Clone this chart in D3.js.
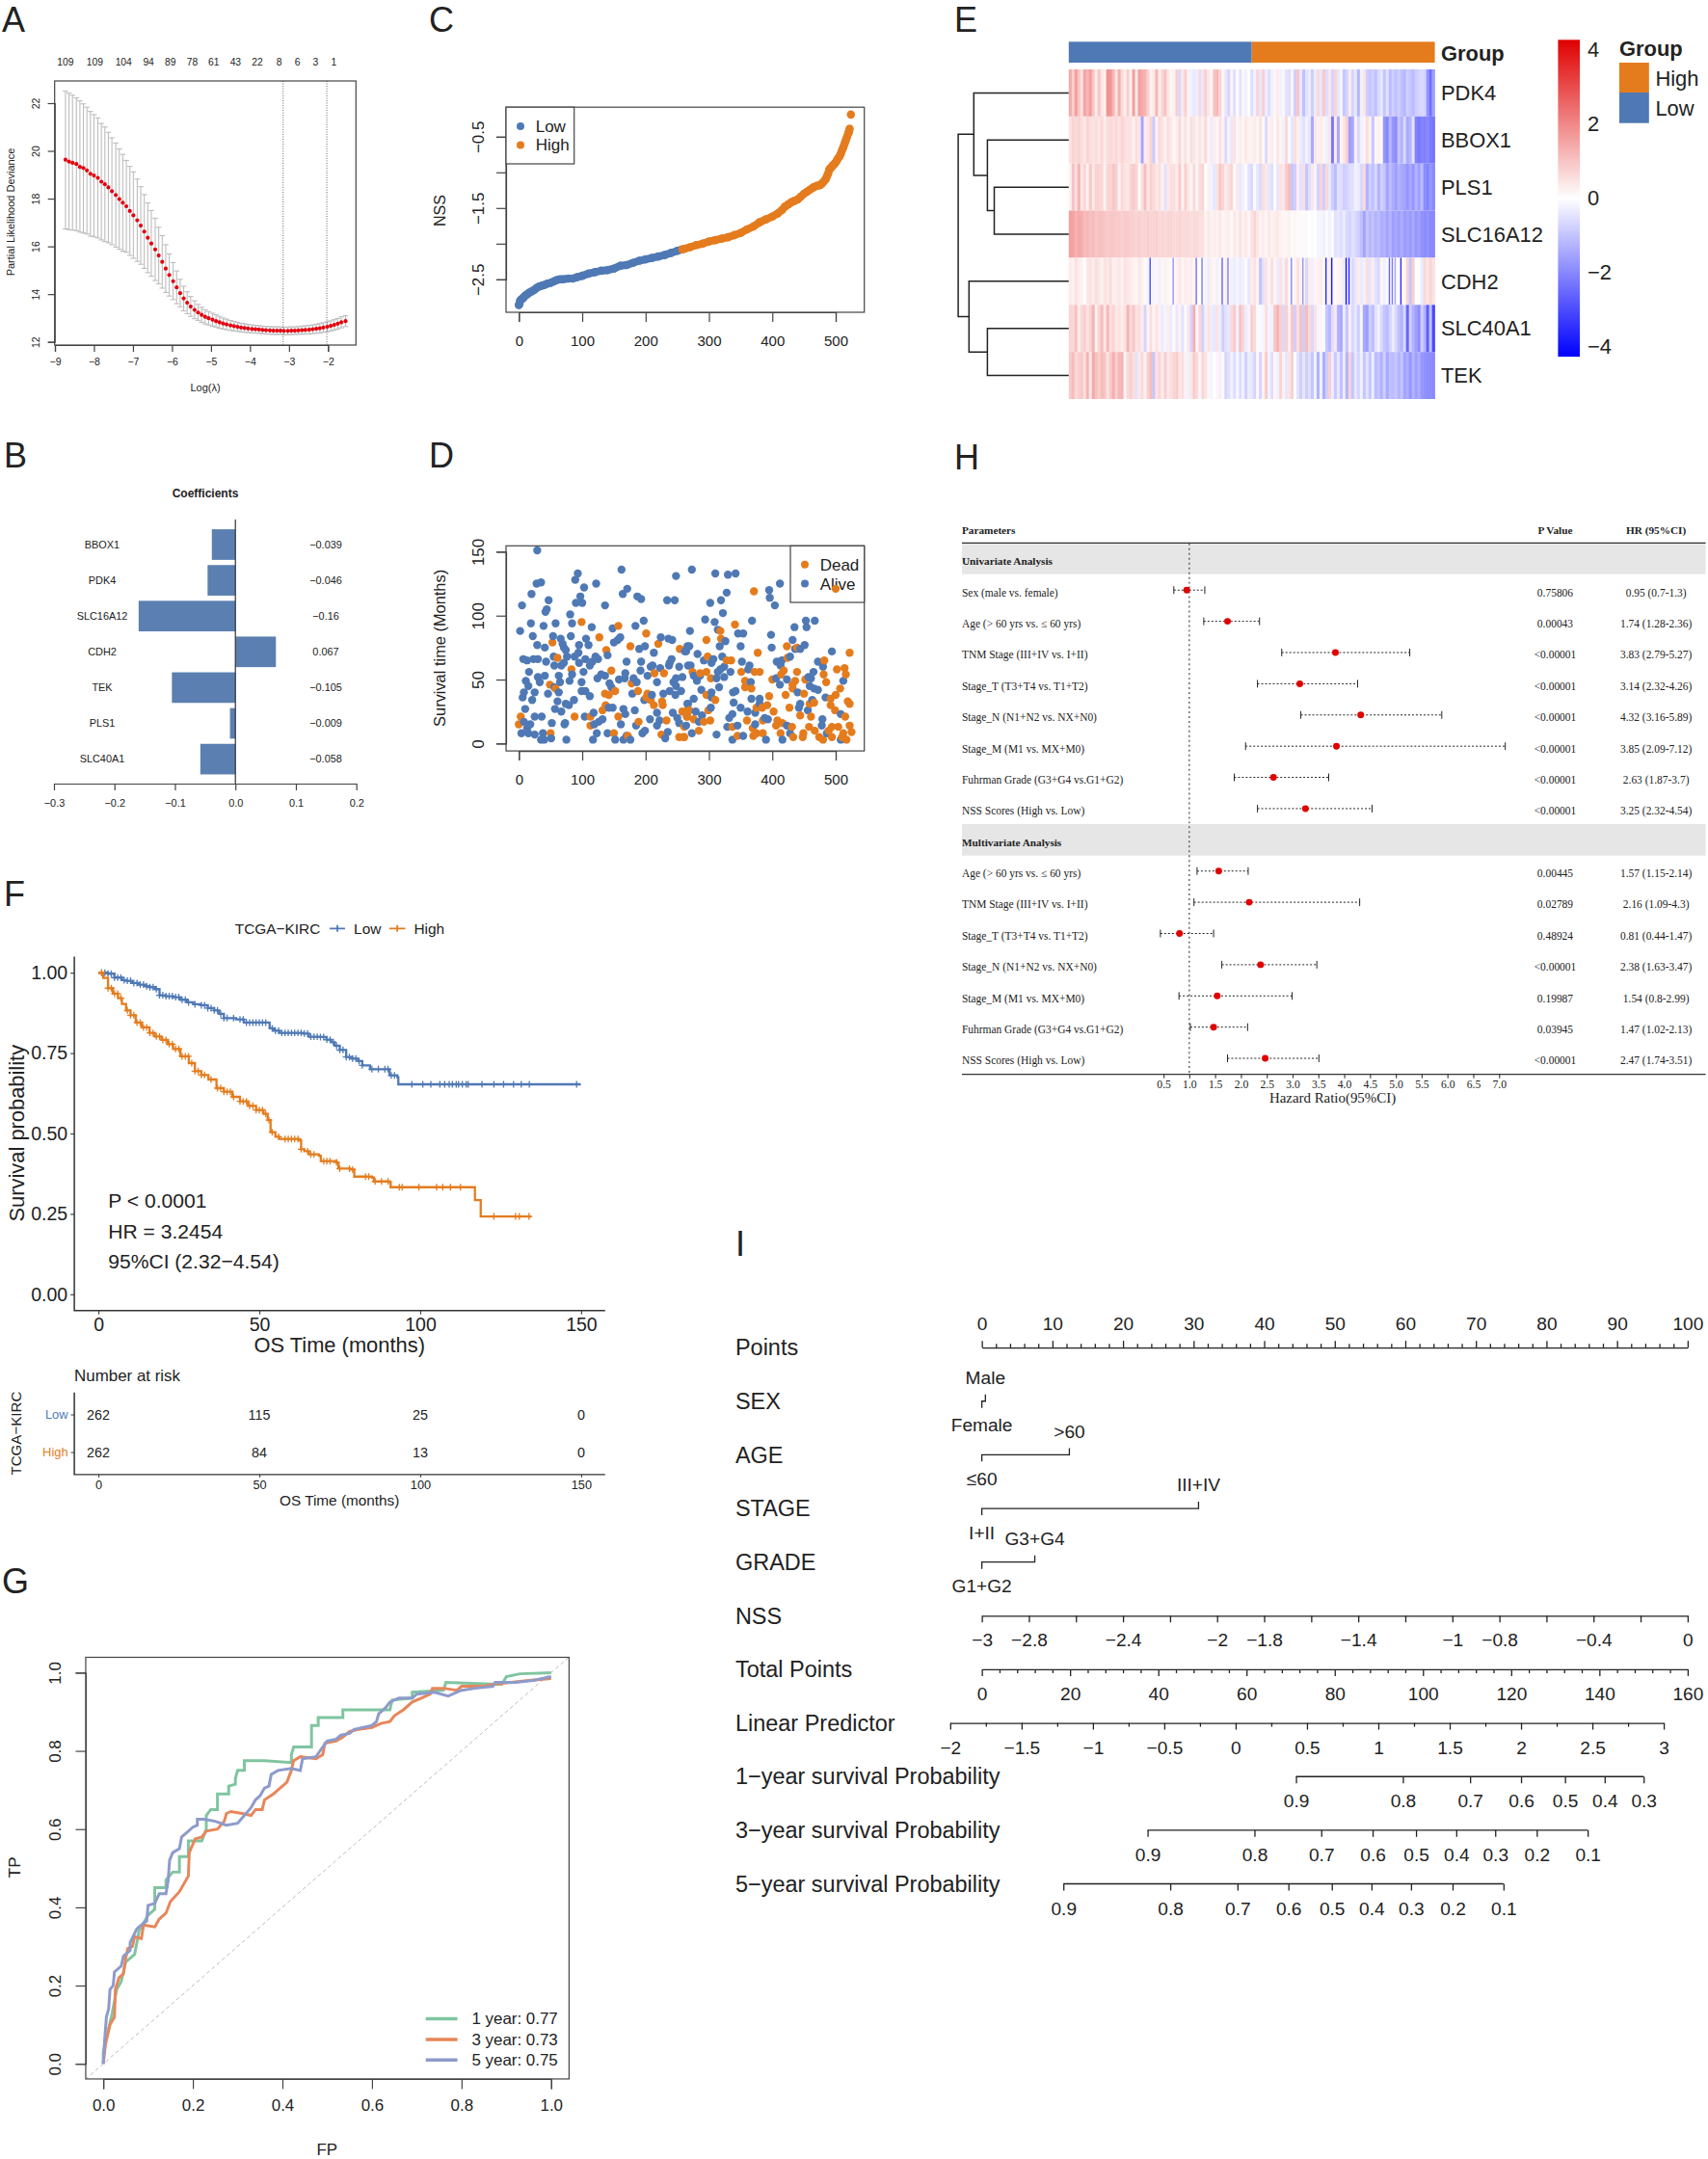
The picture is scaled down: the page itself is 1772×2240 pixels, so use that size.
<!DOCTYPE html>
<html>
<head>
<meta charset="utf-8">
<script src="https://d3js.org/d3.v7.min.js"></script>
<style>
  body { margin: 0; background: #fff; }
  text { font-family: "Liberation Sans", Arial, sans-serif; fill: #222; }
  .serif text, text.serif { font-family: "Liberation Serif", "Times New Roman", serif; }
</style>
</head>
<body>
<div id="chart"></div>
<script>
// A: lasso cross validation
const cvLambda = [-8.73,-8.64,-8.55,-8.45,-8.36,-8.27,-8.18,-8.09,-8.00,-7.90,-7.81,-7.72,-7.63,-7.54,-7.44,-7.35,-7.26,-7.17,-7.08,-6.99,-6.89,-6.80,-6.71,-6.62,-6.53,-6.43,-6.34,-6.25,-6.16,-6.07,-5.97,-5.88,-5.79,-5.70,-5.61,-5.52,-5.42,-5.33,-5.24,-5.15,-5.06,-4.96,-4.87,-4.78,-4.69,-4.60,-4.50,-4.41,-4.32,-4.23,-4.14,-4.05,-3.95,-3.86,-3.77,-3.68,-3.59,-3.49,-3.40,-3.31,-3.22,-3.13,-3.03,-2.94,-2.85,-2.76,-2.67,-2.58,-2.48,-2.39,-2.30,-2.21,-2.12,-2.02,-1.93,-1.84,-1.75,-1.66,-1.55];
const cvMean = [19.63,19.55,19.50,19.45,19.33,19.28,19.18,19.04,18.97,18.87,18.71,18.60,18.47,18.31,18.15,17.98,17.83,17.68,17.48,17.30,17.09,16.87,16.62,16.36,16.12,15.87,15.62,15.35,15.07,14.80,14.54,14.28,14.04,13.82,13.64,13.48,13.34,13.23,13.13,13.05,12.99,12.93,12.87,12.82,12.77,12.73,12.69,12.66,12.63,12.60,12.58,12.56,12.54,12.53,12.52,12.50,12.49,12.48,12.47,12.47,12.47,12.46,12.46,12.47,12.47,12.48,12.49,12.50,12.51,12.53,12.55,12.57,12.60,12.63,12.67,12.71,12.76,12.82,12.87];
const cvUpper = [22.5,22.42,22.33,22.22,22.1,21.97,21.83,21.65,21.52,21.38,21.15,21.0,20.78,20.55,20.33,20.08,19.85,19.6,19.35,19.12,18.82,18.5,18.17,17.82,17.5,17.18,16.8,16.45,16.07,15.68,15.32,14.97,14.62,14.33,14.1,13.9,13.72,13.57,13.45,13.35,13.27,13.2,13.13,13.07,13.0,12.95,12.9,12.86,12.82,12.78,12.76,12.73,12.71,12.69,12.68,12.66,12.65,12.64,12.63,12.63,12.63,12.62,12.62,12.63,12.63,12.64,12.66,12.67,12.69,12.71,12.74,12.77,12.8,12.84,12.88,12.93,12.98,13.05,13.1];
const cvLower = [16.73,16.70,16.68,16.66,16.6,16.56,16.52,16.43,16.4,16.35,16.27,16.2,16.15,16.07,15.97,15.88,15.8,15.75,15.62,15.5,15.37,15.25,15.08,14.9,14.75,14.57,14.43,14.25,14.07,13.92,13.77,13.6,13.47,13.3,13.18,13.07,12.97,12.9,12.82,12.75,12.71,12.66,12.62,12.57,12.54,12.51,12.48,12.46,12.44,12.42,12.4,12.39,12.37,12.37,12.36,12.34,12.33,12.32,12.31,12.31,12.31,12.3,12.3,12.31,12.31,12.32,12.32,12.33,12.33,12.35,12.36,12.37,12.4,12.42,12.46,12.49,12.54,12.59,12.64];
const cvTopCounts = ["109","109","104","94","89","78","61","43","22","8","6","3","1"];
const cvTopLambda = [-8.73,-7.98,-7.24,-6.6,-6.04,-5.48,-4.93,-4.37,-3.81,-3.25,-2.78,-2.32,-1.85];
const cvCutoffs = [-3.15,-2.03];

// B: coefficients
const coefGenes = ["BBOX1","PDK4","SLC16A12","CDH2","TEK","PLS1","SLC40A1"];
const coefValues = [-0.039,-0.046,-0.16,0.067,-0.105,-0.009,-0.058];

// C: sorted NSS score
const nssRank = [0,1,2,4,6,8,10,13,16,20,24,28,32,36,40,45,50,55,60,65,70,78,85,92,100,110,120,130,140,150,160,170,180,190,200,210,220,230,240,250,258,262,270,280,290,300,310,320,330,340,350,360,370,380,390,400,408,415,420,425,430,435,440,445,450,455,460,465,470,475,478,481,484,486,488,490,492,494,496,498,500,502,504,506,508,510,512,514,516,518,520,521,522,524];
const nssValue = [-2.86,-2.84,-2.8,-2.78,-2.77,-2.75,-2.73,-2.71,-2.69,-2.67,-2.65,-2.62,-2.6,-2.59,-2.58,-2.56,-2.55,-2.53,-2.51,-2.5,-2.5,-2.49,-2.49,-2.47,-2.45,-2.42,-2.4,-2.38,-2.37,-2.35,-2.31,-2.3,-2.27,-2.24,-2.22,-2.2,-2.18,-2.16,-2.13,-2.1,-2.08,-2.07,-2.05,-2.02,-2.0,-1.97,-1.95,-1.93,-1.91,-1.88,-1.85,-1.8,-1.76,-1.7,-1.66,-1.62,-1.58,-1.53,-1.48,-1.45,-1.42,-1.4,-1.38,-1.34,-1.3,-1.27,-1.24,-1.21,-1.19,-1.18,-1.16,-1.13,-1.1,-1.06,-1.02,-0.96,-0.94,-0.92,-0.9,-0.88,-0.86,-0.83,-0.8,-0.78,-0.74,-0.69,-0.65,-0.6,-0.55,-0.5,-0.45,-0.43,-0.39,-0.19];

// D: survival status, [rank, months]
const alivePoints = [[29,151],[162,136],[93,133],[248,131],[35,126],[89,128],[28,125],[122,125],[171,121],[103,122],[20,117],[164,117],[187,115],[97,115],[193,113],[47,112],[234,112],[246,112],[100,110],[90,110],[5,108],[136,108],[44,105],[42,103],[81,101],[197,96],[19,94],[84,94],[58,94],[39,92],[184,92],[115,91],[148,90],[2,88],[22,84],[54,84],[82,84],[160,83],[66,82],[106,82],[156,81],[224,83],[236,82],[242,81],[150,79],[69,78],[110,77],[95,77],[29,77],[41,75],[71,75],[199,76],[190,74],[74,73],[266,76],[262,72],[213,71],[94,71],[140,69],[121,68],[88,68],[76,68],[7,66],[13,65],[23,66],[30,66],[55,68],[105,66],[125,66],[43,64],[170,64],[193,64],[241,66],[238,63],[95,63],[116,64],[71,63],[56,61],[67,61],[112,61],[211,61],[208,60],[253,60],[223,59],[267,61],[237,61],[192,57],[16,56],[102,56],[168,55],[63,53],[84,54],[130,54],[136,53],[203,53],[30,52],[41,53],[80,49],[124,51],[158,50],[167,51],[181,51],[248,51],[258,52],[11,49],[33,48],[65,48],[99,48],[143,47],[186,48],[218,48],[244,48],[15,45],[56,44],[146,44],[248,45],[256,41],[8,40],[25,40],[46,39],[63,40],[99,41],[105,41],[179,39],[238,41],[228,39],[112,37],[247,38],[210,38],[6,36],[21,34],[61,33],[87,34],[198,34],[74,31],[79,30],[266,31],[10,27],[57,27],[67,25],[142,28],[148,28],[118,24],[165,27],[168,23],[218,24],[243,24],[183,26],[25,21],[36,21],[104,21],[132,19],[250,20],[207,19],[8,17],[52,16],[73,16],[126,17],[222,18],[253,16],[18,15],[72,15],[119,15],[161,15],[185,14],[218,14],[13,12],[199,10],[15,8],[123,8],[140,8],[195,8],[235,9],[4,8],[25,7],[38,8],[152,3],[170,6],[35,3],[40,3],[51,4],[75,3],[117,3],[165,3],[176,3],[231,4],
  [273,136],[310,133],[330,132],[342,133],[412,125],[395,120],[328,118],[319,112],[396,114],[302,110],[404,108],[322,102],[294,97],[309,95],[368,96],[453,96],[467,96],[454,91],[435,91],[314,89],[270,88],[346,86],[354,86],[398,85],[432,81],[326,80],[317,76],[350,76],[399,75],[451,77],[444,74],[436,74],[269,76],[264,72],[282,70],[494,72],[321,68],[428,68],[292,65],[307,66],[304,63],[352,64],[407,64],[415,65],[472,64],[271,61],[324,60],[364,61],[413,61],[480,60],[362,58],[318,58],[314,56],[334,56],[276,53],[286,53],[324,52],[312,51],[465,56],[457,52],[461,51],[281,49],[406,51],[423,50],[366,48],[412,46],[512,49],[459,45],[466,43],[472,42],[316,44],[288,42],[342,41],[338,40],[304,40],[440,40],[484,36],[276,35],[367,35],[380,35],[304,36],[339,32],[463,34],[267,31],[380,31],[444,31],[350,28],[303,28],[279,25],[361,25],[442,28],[456,26],[373,24],[337,23],[332,20],[289,22],[388,20],[393,19],[479,19],[508,23],[284,17],[373,15],[345,14],[423,14],[329,13],[478,14],[264,14],[428,8],[486,8],[312,7],[273,8],[354,6],[337,3],[390,3],[416,3],[508,3]];
const deadPoints = [[99,95],[157,92],[201,86],[127,83],[53,79],[176,76],[220,78],[138,73],[254,74],[61,67],[83,58],[146,57],[214,55],[229,55],[49,46],[178,47],[58,43],[188,41],[152,41],[136,39],[142,38],[203,39],[201,36],[208,34],[226,33],[227,30],[213,30],[137,30],[132,26],[3,21],[88,21],[113,21],[157,21],[189,17],[233,18],[258,25],[266,26],[265,21],[0,15],[113,14],[261,13],[50,8],[150,8],[172,6],[225,7],[253,5],[260,5],
  [500,121],[371,119],[341,93],[318,88],[319,82],[296,81],[423,76],[439,75],[377,71],[522,71],[298,68],[328,65],[335,65],[424,67],[482,65],[502,58],[514,59],[516,54],[439,56],[418,57],[414,54],[351,56],[372,56],[380,56],[274,56],[296,56],[286,55],[303,51],[481,54],[485,48],[400,50],[436,49],[452,50],[432,46],[357,49],[357,44],[367,43],[432,43],[450,39],[421,38],[296,38],[395,37],[507,43],[500,38],[492,35],[310,34],[466,32],[459,31],[519,33],[522,31],[492,30],[392,30],[384,28],[375,28],[427,28],[499,26],[299,26],[269,26],[402,25],[444,22],[461,21],[515,21],[266,21],[360,18],[385,18],[276,19],[302,18],[292,17],[408,18],[416,16],[337,13],[369,12],[431,13],[406,14],[504,13],[522,14],[458,13],[494,13],[284,10],[413,8],[385,8],[375,8],[370,6],[345,6],[449,8],[467,10],[489,10],[525,9],[433,5],[448,5],[474,5],[480,3],[494,5],[512,8],[517,3],[510,5],[261,5]];

// E: heatmap, one array per gene, samples sorted by NSS descending
const heatGenes = ["PDK4","BBOX1","PLS1","SLC16A12","CDH2","SLC40A1","TEK"];
const heatPDK4 = [1.8,1.0,2.0,1.2,.6,1.9,1.5,2.0,1.2,.4,1.2,.5,.3,2.3,2.2,1.5,.6,1.7,.8,.4,1.0,.3,2.0,.5,2.0,1.8,1.6,1.0,.3,.5,1.6,.4,.9,1.3,.5,.2,.3,1.0,-.8,.5,1.0,.3,-.3,-.5,-.4,.8,-.5,1.0,.5,.2,1.3,1.5,.9,.2,-.5,-.9,.3,-.7,.1,-.6,.2,-.3,.0,
  -.7,-.3,.9,-.5,1.0,-.4,-.7,-.3,.2,.4,-.3,.2,-.6,-.7,.3,-1,1.2,-.5,-1.3,-.6,-.4,-1.0,-.4,.8,-.5,1.1,-.7,.5,-.9,.9,-.5,-.2,-1.2,-.9,.4,-.9,-.5,-1.5,-.3,.5,-1,-1.2,-1,-1.3,-.8,-.5,-1.2,-.6,-1.4,-1,-1.3,-1.0,-1.3,-1.5,-1,-1.2,-1.4,-1,-.9,-.8,-.9,-2.2,-3,-2];
const heatBBOX1 = [.6,.9,.8,.9,.7,.5,.9,.7,.6,.7,.5,.8,.4,.7,.8,.7,.8,.6,.9,.7,.6,.6,.3,.7,.5,-1.9,.4,.5,.9,-1.1,.3,.8,.6,.3,.7,.5,.2,.4,.8,.3,.6,.2,.7,.5,.3,.6,.3,.8,.2,-.4,.4,.2,.6,.3,-.8,.3,-.5,.6,.2,.4,.2,.5,.3,
  .3,.4,.2,.6,.1,-.8,.3,.4,.1,.5,.2,-.3,.8,.1,-.5,.7,.3,-.4,-.6,-.3,-.5,-1.8,.5,.3,.4,.2,-.3,.5,-2.8,.4,-1.8,.2,.5,1.0,-2,-1.8,.3,-.8,-.3,.2,.7,.3,-1.2,.2,.3,.1,-2.2,-2.5,-1.5,-2.2,-2.4,-1.2,-1.6,-.8,-1.8,-1.5,-.6,-2.6,-2.8,-2.6,-2.7,-2.5,-2.8,-2.9];
const heatPLS1 = [.3,1.3,.6,1.6,.5,.9,.3,1.1,.5,.9,.9,.8,.3,.9,.9,1.2,1.0,.3,.8,.6,.5,.9,1.1,.9,.1,.7,1.4,.5,1.0,.8,.5,.7,.3,-.6,.5,.7,.7,.4,1.1,.3,1.0,.5,.2,.8,.2,.8,.9,.0,.3,-.3,-.5,.6,1.2,.9,.4,.7,.9,.1,.5,-.5,-.3,.1,-.6,
  -.8,-.1,-.5,-.8,.7,.5,-.5,-.7,.1,-.5,.6,.5,1.1,1.4,-1.2,-1,.4,-.6,.7,-1.2,-.7,.5,-.2,-.9,.9,-1.0,.8,-.5,-1,-1.4,-.6,-.7,-1.0,-.9,-.7,-.6,-.3,-.4,-.8,.8,-1.6,-1.0,-1.3,-.8,-1.6,-1.0,-1.2,-1.9,-1.4,-1.7,-2,-1.6,-1.8,-1.9,-2.2,-1.8,-2.2,-1.6,-2,-1.4,-2.4,-2.6,-2.2,-2.5];
const heatSLC16A12 = [2.0,1.9,1.6,1.8,1.7,1.4,1.5,1.3,1.4,1.2,1.3,1.3,1.2,1.1,1.2,1.2,1.1,1.1,1.0,1.1,1.1,1.0,1.0,.9,1.0,.9,.9,1.0,.9,.9,1.0,.8,.9,.8,.9,.9,.8,.8,.9,.8,.8,.8,.7,.8,.8,.7,.7,.2,.5,.3,.4,.3,.5,.2,.3,.4,.1,.5,.3,.6,.3,.5,.2,
  .6,.9,.5,.3,.4,.2,.5,.3,.4,.5,.3,.2,.2,.3,.1,.2,.1,.1,-.1,.1,.0,-.1,.0,-.2,-.2,-.3,-.1,-.3,-.1,-.6,-.5,-.7,-.4,-.8,-.9,-.6,-.8,-1.0,-1.3,-1.9,-1.2,-1.5,-1.3,-1.6,-1.4,-1.7,-1.6,-1.9,-1.6,-2,-1.8,-2,-1.7,-2.1,-1.9,-2.1,-1.8,-2.2,-2,-2.3,-2.4,-2.3,-2.5,-2.5];
const heatCDH2 = [.4,.3,.6,.4,.3,.0,.5,.6,.4,.7,.5,.3,.6,.5,.7,.3,.4,.5,.3,.6,.5,.4,.3,.2,.5,.3,.1,-.2,-3,-.2,.2,-.3,.2,.3,.2,.1,-1.8,.3,.5,.2,.4,.3,.4,.2,-2.4,.0,-2.2,-.2,-.4,.3,.2,-.3,.2,-2.6,.3,-2.2,-.3,-.4,-.2,-.4,-.3,.1,-.5,
  .4,.6,.3,-1.3,-.6,.6,.2,.7,.2,-.4,.6,-.3,.8,.2,-2,.2,.6,.3,-1.8,-.8,.4,-.3,.2,.3,.4,-.1,-3.6,.4,-3.9,.1,.2,.3,-.4,-4,-3.6,-.8,-.5,.4,-.4,-.3,.7,-.5,.4,-.6,-.8,.2,-.3,-.1,-2.6,-2.2,-1.5,.1,-3.5,.1,.9,-1.2,1.0,.0,.0,-.4,.8,.5,.9,.6];
const heatSLC40A1 = [.9,.8,1.3,.4,.8,1.0,.6,.9,1.6,.3,.9,1.4,.5,1.5,.7,.9,.5,.6,.4,.6,1.6,.8,1.2,.6,.7,.4,-.9,.3,.7,.2,.6,.3,-.4,-.2,.4,-.4,.1,-.5,.3,-.6,-.1,.5,-.9,1.7,-.2,.9,-1,-.3,.6,-.4,-.5,.6,-.4,-1,-.6,-.5,.8,1.1,-.3,1.3,.9,-.4,-.2,
  1.0,.8,-.1,-.1,-.2,.7,-.2,-.3,1.2,1.6,1.0,-.8,1.0,.3,1.2,-1.0,.7,1.3,-1,1.4,.8,-.8,.6,-.2,.2,-.1,-1.2,-1.5,-.7,.5,-1.6,-1.8,-.4,-1.2,.4,-.8,-.5,-1,-.2,-1.8,-2,-1,-1.4,-.6,-.3,-.8,-1.2,-1.4,-.9,-.4,-.8,-1.3,-1.6,-.8,-3.2,-1,-1.6,-2,-2.4,-1,-1.6,-3.4,-1.3,-3.8];
const heatTEK = [1.1,1.4,.8,1.0,1.1,.7,1.6,.5,1.8,1.3,1.0,1.4,1.2,.6,1.1,1.7,1.0,1.5,1.6,.2,.8,1.0,.7,-.6,.5,.8,.3,1.0,1.4,-1.2,.6,.9,.4,1.0,.5,.7,.9,1.1,.5,.7,.3,-.3,.5,1.1,.8,-.2,.9,.6,.2,-.2,.0,.2,-.3,.1,-.9,-.7,-.3,-.7,-.2,-.7,-.3,-1,-.4,
  -.5,-.9,.2,-.9,.3,1.1,-.3,-.7,.2,-.3,.9,.3,-.5,.6,1.0,.0,-.6,-1,-.5,-1,-.7,-1.2,-.3,-1.6,-.3,-1.7,-1.0,1.0,-.4,-1.1,-.5,-1.3,-.4,-1.6,.9,-1.2,-.5,-.9,-.3,-1.2,-.6,-1.2,-.4,-1.4,-1.2,-1.6,-1,-1.8,-1.3,-1.4,-1.2,-1.6,-1.2,-1.9,-1.7,-2.2,-1.6,-2,-1.7,-2.2,-2.3,-2.4,-2.4,-2.5];

// F: Kaplan-Meier
const kmLowTime = [0,3,5,7.3,8.5,10.4,12.5,14.7,16,17.7,19,21,23.2,25.5,27.5,29.5,31.8,34,36,37.5,39,42.8,45.2,51.3,53.2,54.5,56.2,63.6,65.4,69,70.9,72.3,73.4,75,77,78.8,80.7,82,84.4,89.9,90.5,92.9,93.2];
const kmLowSurv = [1,.997,.985,.977,.975,.968,.963,.958,.955,.949,.93,.927,.924,.916,.908,.902,.899,.89,.883,.872,.859,.855,.845,.845,.827,.82,.813,.811,.801,.8,.792,.784,.773,.76,.738,.733,.725,.712,.7,.7,.681,.675,.653];
const kmHighTime = [0,1.5,3,4.5,6.1,7.3,8.6,10,11.6,13.5,15.9,17.5,19.6,21.5,23.2,25.5,28.1,30,32,34.2,36.7,39,41.6,44,46.5,49,51.3,52.6,53.5,55,56.2,62.3,63,64,65.4,68.5,69.1,74,74.6,78.2,79.5,85,85.6,90.5,90.8,116.7,117,118.8];
const kmHighSurv = [1,.984,.952,.935,.921,.903,.883,.868,.845,.83,.813,.802,.791,.778,.763,.74,.719,.694,.682,.668,.641,.63,.614,.6,.586,.573,.561,.542,.504,.49,.483,.479,.451,.445,.435,.431,.414,.41,.391,.388,.366,.363,.351,.349,.333,.333,.293,.242];
const kmLowCensor = [1,2,3,4,5,6,7,8,9,10,11,12,13,14,15,16,17,18,19,20,21,22,23,24,25,26,27,28,30,32,33,34,35,36,37,38,39,40,42,44,45,46,47,48,49,50,51,52,54,55,56,57,58,59,60,61,62,63,64,65,66,67,68,69,70,71,72,73,74,75,76,77,78,79,80,81,82,85,87,89,90,91,92,97.4,100.8,103.3,106.1,107.6,109,110,111.2,111.9,113.1,114.3,114.9,119.2,122.9,125.9,129,131.4,133.9,148.6];
const kmHighCensor = [1,3,4,5,6,7,9,10,11,12,13,14,15,16,17,18,19,20,21,22,23,24,25,26,27,28,29,30,31,32,33,35,37,38,39,40,41,42,44,45,46,47,48,49,50,51,52,53,54,56,58,59,60,61,62,63,65,66,67,70,71,72,74,75,78,79,83,84,86,88,90,93.5,94.4,99.6,105.1,107,109.4,112.5,122.9,129.6,130.8,133.8];
const riskTimes = [0,50,100,150];
const riskLow = [262,115,25,0];
const riskHigh = [262,84,13,0];

// G: time dependent ROC, [fp, tp]
const roc1Year = [[0,0],[0,.03],[.01,.08],[.02,.13],[.03,.19],[.04,.21],[.05,.26],[.07,.28],[.08,.34],[.10,.38],[.115,.395],[.115,.45],[.14,.45],[.14,.47],[.155,.49],[.17,.49],[.17,.53],[.19,.53],[.19,.57],[.22,.57],[.23,.6],[.23,.635],[.24,.65],[.255,.65],[.255,.69],[.28,.69],[.28,.71],[.295,.715],[.295,.73],[.30,.75],[.315,.75],[.315,.775],[.36,.775],[.42,.77],[.42,.79],[.425,.81],[.465,.81],[.465,.865],[.48,.865],[.48,.885],[.535,.885],[.535,.905],[.60,.905],[.64,.905],[.645,.93],[.69,.935],[.69,.95],[.76,.955],[.765,.975],[.89,.97],[.90,.99],[.93,.997],[1,1]];
const roc3Year = [[0,0],[.005,.05],[.015,.10],[.025,.12],[.027,.19],[.035,.22],[.045,.23],[.05,.27],[.055,.295],[.065,.30],[.07,.325],[.085,.32],[.09,.355],[.115,.35],[.125,.37],[.14,.385],[.15,.415],[.17,.44],[.19,.48],[.192,.54],[.205,.575],[.22,.58],[.23,.595],[.255,.60],[.27,.62],[.275,.64],[.285,.645],[.31,.64],[.33,.635],[.34,.65],[.355,.65],[.36,.675],[.38,.69],[.395,.705],[.41,.72],[.42,.75],[.425,.775],[.44,.785],[.475,.78],[.49,.79],[.495,.82],[.52,.825],[.535,.835],[.55,.85],[.57,.855],[.60,.86],[.62,.87],[.64,.875],[.65,.89],[.67,.905],[.69,.925],[.71,.935],[.73,.945],[.735,.96],[.76,.96],[.79,.955],[.80,.965],[.85,.965],[.87,.97],[.91,.975],[.95,.98],[1,.985]];
const roc5Year = [[0,0],[.003,.06],[.007,.12],[.012,.14],[.015,.19],[.022,.20],[.025,.235],[.04,.25],[.045,.275],[.06,.29],[.06,.31],[.075,.345],[.09,.36],[.097,.365],[.10,.405],[.115,.41],[.125,.435],[.14,.435],[.145,.47],[.148,.52],[.155,.54],[.17,.55],[.175,.58],[.19,.595],[.2,.605],[.21,.61],[.21,.625],[.225,.625],[.25,.62],[.275,.61],[.30,.615],[.315,.635],[.33,.655],[.34,.675],[.35,.685],[.36,.705],[.37,.71],[.375,.74],[.39,.75],[.42,.755],[.44,.75],[.445,.78],[.475,.785],[.49,.81],[.50,.825],[.52,.83],[.53,.84],[.55,.845],[.56,.855],[.60,.865],[.61,.875],[.615,.895],[.63,.91],[.64,.925],[.66,.935],[.69,.935],[.70,.945],[.74,.95],[.77,.94],[.78,.945],[.80,.955],[.83,.96],[.87,.965],[.875,.975],[.92,.975],[.96,.98],[1,.99]];
const rocLabels = ["1 year: 0.77","3 year: 0.73","5 year: 0.75"];

// H: forest plot
const uniParams = ["Sex (male vs. female)","Age (> 60 yrs vs. ≤ 60 yrs)","TNM Stage (III+IV vs. I+II)","Stage_T (T3+T4 vs. T1+T2)","Stage_N (N1+N2 vs. NX+N0)","Stage_M (M1 vs. MX+M0)","Fuhrman Grade (G3+G4 vs.G1+G2)","NSS Scores (High vs. Low)"];
const uniP = ["0.75806","0.00043","<0.00001","<0.00001","<0.00001","<0.00001","<0.00001","<0.00001"];
const uniHR = [0.95,1.74,3.83,3.14,4.32,3.85,2.63,3.25];
const uniLow = [0.7,1.28,2.79,2.32,3.16,2.09,1.87,2.32];
const uniHigh = [1.3,2.36,5.27,4.26,5.89,7.12,3.7,4.54];
const multiParams = ["Age (> 60 yrs vs. ≤ 60 yrs)","TNM Stage (III+IV vs. I+II)","Stage_T (T3+T4 vs. T1+T2)","Stage_N (N1+N2 vs. NX+N0)","Stage_M (M1 vs. MX+M0)","Fuhrman Grade (G3+G4 vs.G1+G2)","NSS Scores (High vs. Low)"];
const multiP = ["0.00445","0.02789","0.48924","<0.00001","0.19987","0.03945","<0.00001"];
const multiHR = [1.57,2.16,0.81,2.38,1.54,1.47,2.47];
const multiLow = [1.15,1.09,0.44,1.63,0.8,1.02,1.74];
const multiHigh = [2.14,4.3,1.47,3.47,2.99,2.13,3.51];
const forestTicks = [0.5,1,1.5,2,2.5,3,3.5,4,4.5,5,5.5,6,6.5,7];

// I: nomogram
const nomNames = ["Points","SEX","AGE","STAGE","GRADE","NSS","Total Points","Linear Predictor","1−year survival Probability","3−year survival Probability","5−year survival Probability"];
const nomFactorRows = ["SEX","AGE","STAGE","GRADE"];
const nomFactorPoints = [0.5,12.4,30.7,7.5];
const nomFactorLow = ["Female","≤60","I+II","G1+G2"];
const nomFactorHigh = ["Male",">60","III+IV","G3+G4"];
const nssTicks = [-3,-2.8,-2.6,-2.4,-2.2,-2,-1.8,-1.6,-1.4,-1.2,-1,-0.8,-0.6,-0.4,-0.2,0];
const nssLabelled = [-3,-2.8,-2.4,-2,-1.8,-1.4,-1,-0.8,-0.4,0];
const prob1Labels = [0.9,0.8,0.7,0.6,0.5,0.4,0.3];
const prob1Lp = [0.423,1.172,1.643,2.0,2.308,2.586,2.859];
const prob3Labels = [0.9,0.8,0.7,0.6,0.5,0.4,0.3,0.2,0.1];
const prob3Lp = [-0.617,0.132,0.6,0.96,1.264,1.546,1.819,2.11,2.467];
const prob5Labels = [0.9,0.8,0.7,0.6,0.5,0.4,0.3,0.2,0.1];
const prob5Lp = [-1.207,-0.458,0.013,0.37,0.674,0.952,1.229,1.52,1.877];

const blue = "#4f79b5";
const orange = "#e47c1e";
const axisColor = "#444";

const svg = d3.select("#chart").append("svg")
    .attr("width", 1772)
    .attr("height", 2240)
    .style("display", "block");

// Small helper for free text
function label(g, x, y, str, size, anchor, weight) {
    return g.append("text")
        .attr("x", x)
        .attr("y", y)
        .attr("dy", ".35em")
        .attr("text-anchor", anchor || "middle")
        .attr("font-weight", weight || "normal")
        .style("font-size", size + "px")
        .text(str);
}

// Rotated text, centred on x,y
function vlabel(g, x, y, str, size) {
    return g.append("text")
        .attr("transform", "translate(" + x + "," + y + ") rotate(-90)")
        .attr("dy", ".35em")
        .attr("text-anchor", "middle")
        .style("font-size", size + "px")
        .text(str);
}

function box(g, x0, y0, x1, y1) {
    g.append("rect")
        .attr("x", x0).attr("y", y0)
        .attr("width", x1 - x0).attr("height", y1 - y0)
        .attr("fill", "none")
        .attr("stroke", axisColor)
        .attr("stroke-width", 1.2);
}

function styleAxis(g, size) {
    g.selectAll("text").style("font-size", size + "px").attr("fill", "#222");
    g.selectAll("line").attr("stroke", axisColor).attr("stroke-width", 1.2);
    g.selectAll("path").attr("stroke", axisColor).attr("stroke-width", 1.2);
    return g;
}

// R style y labels, turned along the axis
function rotateTicks(g, pad, size) {
    g.selectAll("text")
        .attr("transform", "rotate(-90)")
        .attr("x", 0)
        .attr("y", -pad)
        .attr("dy", 0)
        .attr("text-anchor", "middle");
    if (size) g.selectAll("text").style("font-size", size + "px");
}

// Panel group, slightly shrunk about a corner
function panel(ox, oy, k) {
    return svg.append("g")
        .attr("transform", "translate(" + ox + "," + oy + ") scale(" + k + ") translate(" + (-ox) + "," + (-oy) + ")");
}

// Panel letters
[["A",2,33],["B",4,485],["C",445,33],["D",445,485],["E",990,33],["F",4,940],["G",2,1653],["H",990,487],["I",763,1303]].forEach(function(p) {
    svg.append("text")
        .attr("x", p[1]).attr("y", p[2])
        .style("font-size", "36px")
        .text(p[0]);
});

// ---------- A ----------
const panelA = svg.append("g");
const xA = d3.scaleLinear().domain([-9, -2]).range([57, 340.3]);
const yA = d3.scaleLinear().domain([12, 22]).range([354.7, 107]);

cvLambda.forEach(function(l, i) {
    panelA.append("line")
        .attr("x1", xA(l)).attr("x2", xA(l))
        .attr("y1", yA(cvUpper[i])).attr("y2", yA(cvLower[i]))
        .attr("stroke", "#bdbdbd").attr("stroke-width", 1.1);
    [cvUpper[i], cvLower[i]].forEach(function(v) {
        panelA.append("line")
            .attr("x1", xA(l) - 2.8).attr("x2", xA(l) + 2.8)
            .attr("y1", yA(v)).attr("y2", yA(v))
            .attr("stroke", "#bdbdbd").attr("stroke-width", 1.1);
    });
});
panelA.selectAll(".cut").data(cvCutoffs).enter().append("line")
    .attr("x1", d => xA(d)).attr("x2", d => xA(d))
    .attr("y1", 84).attr("y2", 358)
    .attr("stroke", "#666").attr("stroke-dasharray", "1,1.5");
panelA.selectAll(".mean").data(cvLambda).enter().append("circle")
    .attr("cx", d => xA(d))
    .attr("cy", (d, i) => yA(cvMean[i]))
    .attr("r", 2.1)
    .attr("fill", "#e3000f");
box(panelA, 56.7, 84, 369.3, 358);
panelA.append("g")
    .attr("transform", "translate(0,358)")
    .call(d3.axisBottom(xA).tickValues(d3.range(-9, -1)).tickSize(7).tickPadding(7).tickFormat(d3.format("d")))
    .call(styleAxis, 10.5);
panelA.append("g")
    .attr("transform", "translate(56.7,0)")
    .call(d3.axisLeft(yA).tickValues(d3.range(12, 23, 2)).tickSize(7))
    .call(styleAxis, 10.5)
    .call(rotateTicks, 16);
panelA.selectAll(".count").data(cvTopCounts).enter().append("text")
    .attr("x", (d, i) => xA(cvTopLambda[i]))
    .attr("y", 64.5)
    .attr("dy", ".35em")
    .attr("text-anchor", "middle")
    .style("font-size", "10.3px")
    .text(d => d);
label(panelA, 213, 401.7, "Log(λ)", 11);
vlabel(panelA, 11, 220, "Partial Likelihood Deviance", 11);

// ---------- B ----------
const panelB = svg.append("g");
const xB = d3.scaleLinear().domain([-0.3, 0.2]).range([56, 369.7]);
const yB = d3.scaleBand().domain(coefGenes).range([546.45, 806.15]).paddingInner(0.145).paddingOuter(0.0725);
panelB.selectAll(".bar").data(coefGenes).enter().append("rect")
    .attr("x", (d, i) => xB(Math.min(0, coefValues[i])))
    .attr("y", d => yB(d))
    .attr("width", (d, i) => Math.abs(xB(coefValues[i]) - xB(0)))
    .attr("height", yB.bandwidth())
    .attr("fill", "#5b7fb1");
panelB.append("line")
    .attr("x1", xB(0)).attr("x2", xB(0))
    .attr("y1", 539).attr("y2", 813)
    .attr("stroke", "#333").attr("stroke-width", 1.2);
coefGenes.forEach(function(g, i) {
    const yc = yB(g) + yB.bandwidth() / 2;
    label(panelB, 106, yc, g, 10.9);
    label(panelB, 338, yc, String(coefValues[i]).replace("-0.", "−0."), 10.9);
});
panelB.append("g")
    .attr("transform", "translate(0,813)")
    .call(d3.axisBottom(xB).tickValues([-0.3,-0.2,-0.1,0,0.1,0.2]).tickSizeInner(7).tickSizeOuter(0).tickPadding(9).tickFormat(d3.format(".1f")))
    .call(styleAxis, 10.9);
label(panelB, 213, 512, "Coefficients", 12, "middle", "bold");

// ---------- C ----------
const panelC = svg.append("g");
const xC = d3.scaleLinear().domain([0, 500]).range([538.3, 867]);
const yC = d3.scaleLinear().domain([-2.5, -0.5]).range([289.8, 141.8]);
const nssPairs = nssRank.map((r, i) => [r, nssValue[i]]);
const nssLine = d3.line().x(d => xC(d[0])).y(d => yC(d[1]));
panelC.append("path")
    .attr("d", nssLine(nssPairs.filter(d => d[0] <= 258)))
    .attr("fill", "none").attr("stroke", blue).attr("stroke-width", 8).attr("stroke-linecap", "round");
panelC.append("path")
    .attr("d", nssLine(nssPairs.filter(d => d[0] >= 258 && d[0] < 524)))
    .attr("fill", "none").attr("stroke", orange).attr("stroke-width", 8);
panelC.selectAll(".nss").data(nssRank).enter().append("circle")
    .attr("cx", d => xC(d))
    .attr("cy", (d, i) => yC(nssValue[i]))
    .attr("r", 4.3)
    .attr("fill", d => d < 258 ? blue : orange);
box(panelC, 525, 111.2, 896.7, 324);
panelC.append("g")
    .attr("transform", "translate(0,324)")
    .call(d3.axisBottom(xC).tickValues(d3.range(0, 501, 100)).tickSize(10).tickPadding(14))
    .call(styleAxis, 15);
panelC.append("g")
    .attr("transform", "translate(525,0)")
    .call(d3.axisLeft(yC).tickValues([-0.5,-1,-1.5,-2,-2.5]).tickSize(10)
        .tickFormat(d => (d === -1 || d === -2) ? "" : d3.format(".1f")(d)))
    .call(styleAxis, 15)
    .call(rotateTicks, 23, 17);
vlabel(panelC, 456.7, 218.5, "NSS", 16);
panelC.append("rect")
    .attr("x", 525).attr("y", 111.2).attr("width", 70.7).attr("height", 58.8)
    .attr("fill", "#fff").attr("stroke", axisColor).attr("stroke-width", 1.2);
[["Low", blue, 131.1], ["High", orange, 150.5]].forEach(function(d) {
    panelC.append("circle").attr("cx", 540).attr("cy", d[2]).attr("r", 4).attr("fill", d[1]);
    label(panelC, 555.7, d[2], d[0], 17, "start");
});

// ---------- D ----------
const panelD = svg.append("g");
const xD = d3.scaleLinear().domain([0, 500]).range([538.3, 867]);
const yD = d3.scaleLinear().domain([0, 150]).range([771.4, 572.4]);
const survival = alivePoints.map(d => ({rank: d[0], time: d[1], color: blue}))
    .concat(deadPoints.map(d => ({rank: d[0], time: d[1], color: orange})))
    .sort((a, b) => a.rank - b.rank);
panelD.selectAll(".pt").data(survival).enter().append("circle")
    .attr("cx", d => xD(d.rank))
    .attr("cy", d => yD(d.time))
    .attr("r", 4.2)
    .attr("fill", d => d.color);
box(panelD, 525, 566.3, 896.7, 779.1);
panelD.append("g")
    .attr("transform", "translate(0,779.1)")
    .call(d3.axisBottom(xD).tickValues(d3.range(0, 501, 100)).tickSize(10).tickPadding(14))
    .call(styleAxis, 15);
panelD.append("g")
    .attr("transform", "translate(525,0)")
    .call(d3.axisLeft(yD).tickValues([0,50,100,150]).tickSize(10))
    .call(styleAxis, 15)
    .call(rotateTicks, 23, 17);
vlabel(panelD, 456.7, 672.4, "Survival time (Months)", 16.4);
panelD.append("rect")
    .attr("x", 820).attr("y", 566.3).attr("width", 76.7).attr("height", 58.7)
    .attr("fill", "#fff").attr("stroke", axisColor).attr("stroke-width", 1.2);
[["Dead", orange, 585.7], ["Alive", blue, 605.6]].forEach(function(d) {
    panelD.append("circle").attr("cx", 835).attr("cy", d[2]).attr("r", 4).attr("fill", d[1]);
    label(panelD, 850.7, d[2], d[0], 17, "start");
});
// the one dead point that sits on top of the legend box
panelD.append("circle").attr("cx", xD(500)).attr("cy", yD(121)).attr("r", 4.2).attr("fill", orange);

// ---------- E ----------
const panelE = svg.append("g");
const heatRows = [heatPDK4, heatBBOX1, heatPLS1, heatSLC16A12, heatCDH2, heatSLC40A1, heatTEK];
const yHeat = d3.scaleBand().domain(heatGenes).range([72, 414]);
const heatColor = d3.scaleLinear().domain([-4.27, 0, 4.27]).range(["#0000ff", "#ffffff", "#e00000"]);
// the columns here are wider than the real samples, so they are paled a little
const heatShade = 0.8;
heatRows.forEach(function(row, r) {
    const xHeat = d3.scaleBand().domain(d3.range(row.length)).range([1108.8, 1488.6]);
    // CDH2 has isolated single-sample dips, so they get a thin line on a pale cell
    const thin = d => r === 4 && d <= -1.5;
    panelE.selectAll(".cell" + r).data(row).enter().append("rect")
        .attr("x", (d, i) => xHeat(i))
        .attr("y", yHeat(heatGenes[r]))
        .attr("width", xHeat.bandwidth() + 0.3)
        .attr("height", yHeat.bandwidth())
        .attr("fill", d => heatColor(thin(d) ? 0.1 : d * heatShade));
    row.forEach(function(d, i) {
        if (!thin(d)) return;
        panelE.append("rect")
            .attr("x", xHeat(i))
            .attr("y", yHeat(heatGenes[r]))
            .attr("width", 1.4)
            .attr("height", yHeat.bandwidth())
            .attr("fill", heatColor(d));
    });
    label(panelE, 1495, yHeat(heatGenes[r]) + yHeat.bandwidth() / 2, heatGenes[r], 21.9, "start");
});
panelE.append("rect").attr("x", 1108.8).attr("y", 43.3).attr("width", 189.9).attr("height", 21.7).attr("fill", blue);
panelE.append("rect").attr("x", 1298.7).attr("y", 43.3).attr("width", 189.9).attr("height", 21.7).attr("fill", orange);
label(panelE, 1495, 55, "Group", 21.9, "start", "bold");

// dendrogram merges
const dendro = d3.path();
function merge(x, y1, x1, y2, x2) {
    dendro.moveTo(x1, y1); dendro.lineTo(x, y1); dendro.lineTo(x, y2); dendro.lineTo(x2, y2);
}
const rowY = g => yHeat(g) + yHeat.bandwidth() / 2;
const mid = (a, b) => (a + b) / 2;
const m1 = mid(rowY("PLS1"), rowY("SLC16A12"));
const m2 = mid(rowY("BBOX1"), m1);
const m3 = mid(rowY("PDK4"), m2);
const m4 = mid(rowY("SLC40A1"), rowY("TEK"));
const m5 = mid(rowY("CDH2"), m4);
merge(1031.5, rowY("PLS1"), 1108.8, rowY("SLC16A12"), 1108.8);
merge(1024.4, rowY("BBOX1"), 1108.8, m1, 1031.5);
merge(1010.3, rowY("PDK4"), 1108.8, m2, 1024.4);
merge(1024.4, rowY("SLC40A1"), 1108.8, rowY("TEK"), 1108.8);
merge(1005.3, rowY("CDH2"), 1108.8, m4, 1024.4);
merge(994.1, m3, 1010.3, m5, 1005.3);
panelE.append("path").attr("d", dendro.toString()).attr("fill", "none").attr("stroke", "#222").attr("stroke-width", 1.5);

// colour bar
const yBar = d3.scaleLinear().domain([-4, 4]).range([359.7, 51.7]);
const barDefs = svg.append("defs").append("linearGradient")
    .attr("id", "heatbar").attr("x1", 0).attr("x2", 0).attr("y1", 1).attr("y2", 0);
barDefs.selectAll("stop").data([-4.27, 0, 4.27]).enter().append("stop")
    .attr("offset", d => (d + 4.27) / 8.54)
    .attr("stop-color", d => heatColor(d));
panelE.append("rect")
    .attr("x", 1616.4).attr("y", yBar(4.27)).attr("width", 22.6).attr("height", yBar(-4.27) - yBar(4.27))
    .attr("fill", "url(#heatbar)");
panelE.append("g")
    .attr("transform", "translate(1639,0)")
    .call(d3.axisRight(yBar).tickValues([-4,-2,0,2,4]).tickSize(0).tickPadding(8))
    .call(styleAxis, 21.9)
    .call(g => g.select(".domain").remove());
label(panelE, 1680, 50, "Group", 21.9, "start", "bold");
panelE.append("rect").attr("x", 1680).attr("y", 65).attr("width", 30.8).attr("height", 31).attr("fill", orange);
panelE.append("rect").attr("x", 1680).attr("y", 96).attr("width", 30.8).attr("height", 31.7).attr("fill", blue);
label(panelE, 1717.4, 81.7, "High", 21.9, "start");
label(panelE, 1717.4, 112.7, "Low", 21.9, "start");

// ---------- F ----------
const panelF = panel(0, 920, 0.9949);
const xF = d3.scaleLinear().domain([0, 150]).range([102.6, 606]);
const yF = d3.scaleLinear().domain([0, 1]).range([1345, 1009.7]);
const stepLine = d3.line().curve(d3.curveStepAfter).x(d => xF(d[0])).y(d => yF(d[1]));
function kmSeries(times, surv, censor, end, color) {
    const pts = times.map((t, i) => [t, surv[i]]);
    pts.push([end, surv[surv.length - 1]]);
    panelF.append("path").attr("d", stepLine(pts)).attr("fill", "none").attr("stroke", color).attr("stroke-width", 2.3);
    censor.forEach(function(t) {
        const s = surv[d3.bisectRight(times, t) - 1];
        panelF.append("path")
            .attr("d", "M-3.5,0H3.5M0,-3.5V3.5")
            .attr("transform", "translate(" + xF(t) + "," + yF(s) + ")")
            .attr("stroke", color).attr("stroke-width", 1.3).attr("fill", "none");
    });
}
kmSeries(kmLowTime, kmLowSurv, kmLowCensor, 149.9, blue);
kmSeries(kmHighTime, kmHighSurv, kmHighCensor, 134.5, orange);
panelF.append("g")
    .attr("transform", "translate(77.5,0)")
    .call(d3.axisLeft(yF).tickValues([0,.25,.5,.75,1]).tickSize(4).tickPadding(3).tickFormat(d3.format(".2f")))
    .call(styleAxis, 19.6)
    .call(g => g.select(".domain").remove());
panelF.append("g")
    .attr("transform", "translate(0,1362)")
    .call(d3.axisBottom(xF).tickValues(riskTimes).tickSize(4).tickPadding(3))
    .call(styleAxis, 19.6)
    .call(g => g.select(".domain").remove());
panelF.append("path").attr("d", "M77.5,992.8V1362H631").attr("fill", "none").attr("stroke", "#333").attr("stroke-width", 1.5);
vlabel(panelF, 17, 1177, "Survival probability", 22);
label(panelF, 354, 1398, "OS Time (months)", 22);
label(panelF, 112.8, 1247.5, "P < 0.0001", 21.2, "start");
label(panelF, 112.8, 1279, "HR = 3.2454", 21.2, "start");
label(panelF, 112.8, 1310.5, "95%CI (2.32−4.54)", 21.2, "start");
// legend
label(panelF, 245, 963.6, "TCGA−KIRC", 15.5, "start");
[[343.8, 359.8, blue, 369, "Low"], [406, 422.6, orange, 431.6, "High"]].forEach(function(d) {
    panelF.append("path")
        .attr("d", "M" + d[0] + ",963.6H" + d[1] + "M" + (d[0] + d[1]) / 2 + ",960V967")
        .attr("stroke", d[2]).attr("stroke-width", 1.8).attr("fill", "none");
    label(panelF, d[3], 963.6, d[4], 15.5, "start");
});
// risk table
label(panelF, 77.5, 1430, "Number at risk", 17, "start");
panelF.append("path").attr("d", "M77.5,1447.5V1533H631").attr("fill", "none").attr("stroke", "#333").attr("stroke-width", 1.5);
riskTimes.forEach(function(t, i) {
    label(panelF, xF(t), 1470.8, riskLow[i], 14.4);
    label(panelF, xF(t), 1510, riskHigh[i], 14.4);
});
panelF.append("g")
    .attr("transform", "translate(0,1533)")
    .call(d3.axisBottom(xF).tickValues(riskTimes).tickSize(3).tickPadding(3))
    .call(styleAxis, 12.8)
    .call(g => g.select(".domain").remove());
label(panelF, 71, 1470, "Low", 13, "end").style("fill", blue);
label(panelF, 71, 1509, "High", 13, "end").style("fill", orange);
panelF.append("path").attr("d", "M74,1470.8H77.5M74,1510H77.5").attr("stroke", "#333");
vlabel(panelF, 17, 1490, "TCGA−KIRC", 15.2);
label(panelF, 354, 1560, "OS Time (months)", 15.4);

// ---------- G ----------
const panelG = panel(0, 1620, 0.9949);
const xG = d3.scaleLinear().domain([0, 1]).range([107.7, 574.7]);
const yG = d3.scaleLinear().domain([0, 1]).range([2143.9, 1736]);
const rocLine = d3.line().x(d => xG(d[0])).y(d => yG(d[1]));
panelG.append("line")
    .attr("x1", xG(-0.04)).attr("y1", yG(-0.04))
    .attr("x2", xG(1.04)).attr("y2", yG(1.04))
    .attr("stroke", "#bbb").attr("stroke-dasharray", "4,3");
const rocSeries = [[roc1Year, "#7fc5a0"], [roc3Year, "#e8865a"], [roc5Year, "#8d9bcb"]];
rocSeries.forEach(function(s) {
    panelG.append("path")
        .attr("d", rocLine(s[0]))
        .attr("fill", "none")
        .attr("stroke", s[1])
        .attr("stroke-width", 3);
});
box(panelG, 89.4, 1720, 593.4, 2159.7);
panelG.append("g")
    .attr("transform", "translate(0,2159.7)")
    .call(d3.axisBottom(xG).tickValues([0,.2,.4,.6,.8,1]).tickSize(10.5).tickPadding(11).tickFormat(d3.format(".1f")))
    .call(styleAxis, 17);
panelG.append("g")
    .attr("transform", "translate(89.4,0)")
    .call(d3.axisLeft(yG).tickValues([0,.2,.4,.6,.8,1]).tickSize(10.5).tickFormat(d3.format(".1f")))
    .call(styleAxis, 17)
    .call(rotateTicks, 25.7);
vlabel(panelG, 15, 1939, "TP", 17);
label(panelG, 341, 2233, "FP", 17);
const rocLegendY = d3.scalePoint().domain(rocLabels).range([2097, 2140]);
rocLabels.forEach(function(t, i) {
    panelG.append("line")
        .attr("x1", 444).attr("x2", 477)
        .attr("y1", rocLegendY(t)).attr("y2", rocLegendY(t))
        .attr("stroke", rocSeries[i][1]).attr("stroke-width", 3.5);
    label(panelG, 492, rocLegendY(t), t, 17, "start");
});

// ---------- H ----------
const panelH = panel(990, 530, 0.995).attr("class", "serif");
const xH = d3.scaleLinear().domain([1, 7]).range([1235.1, 1558.1]);
const yH = d3.scalePoint().domain(d3.range(17)).range([582.5, 1103.3]);
label(panelH, 998, 550, "Parameters", 11.3, "start", "bold");
label(panelH, 1616.6, 550, "P Value", 11.3, "middle", "bold");
label(panelH, 1721.8, 550, "HR (95%CI)", 11.3, "middle", "bold");
panelH.append("rect").attr("x", 998).attr("y", 564.3).attr("width", 775.5).attr("height", 31.7).attr("fill", "#e6e6e6");
panelH.append("rect").attr("x", 998).attr("y", 856.7).attr("width", 775.5).attr("height", 32.8).attr("fill", "#e6e6e6");
label(panelH, 998, yH(0), "Univariate Analysis", 11.3, "start", "bold");
label(panelH, 998, yH(9), "Multivariate Analysis", 11.3, "start", "bold");
panelH.append("line").attr("x1", xH(1)).attr("x2", xH(1)).attr("y1", 564).attr("y2", 1117.6)
    .attr("stroke", "#333").attr("stroke-width", 1.1).attr("stroke-dasharray", "2,3");

function forestRows(start, params, pvals, hr, low, high) {
    params.forEach(function(p, i) {
        const yc = yH(start + i);
        const ym = yc - 2.4;
        label(panelH, 998, yc, p, 11.5, "start");
        label(panelH, 1616.6, yc, pvals[i], 11.5);
        label(panelH, 1721.8, yc, hr[i] + " (" + low[i] + "-" + high[i] + ")", 11.5);
        panelH.append("line")
            .attr("x1", xH(low[i])).attr("x2", xH(high[i]))
            .attr("y1", ym).attr("y2", ym)
            .attr("stroke", "#222").attr("stroke-width", 1).attr("stroke-dasharray", "2,2");
        [low[i], high[i]].forEach(function(v) {
            panelH.append("line")
                .attr("x1", xH(v)).attr("x2", xH(v))
                .attr("y1", ym - 4).attr("y2", ym + 4)
                .attr("stroke", "#222").attr("stroke-width", 1);
        });
        panelH.append("circle").attr("cx", xH(hr[i])).attr("cy", ym).attr("r", 3.5).attr("fill", "#e00000");
    });
}
forestRows(1, uniParams, uniP, uniHR, uniLow, uniHigh);
forestRows(10, multiParams, multiP, multiHR, multiLow, multiHigh);
panelH.append("line").attr("x1", 998).attr("x2", 1773.5).attr("y1", 563.5).attr("y2", 563.5).attr("stroke", "#333").attr("stroke-width", 1.2);
panelH.append("g")
    .attr("transform", "translate(0,1117.6)")
    .call(d3.axisBottom(xH).tickValues(forestTicks).tickSize(4).tickPadding(2).tickFormat(d3.format(".1f")))
    .call(styleAxis, 11.7)
    .call(g => g.select(".domain").remove());
panelH.append("line").attr("x1", 998).attr("x2", 1773.5).attr("y1", 1117.6).attr("y2", 1117.6).attr("stroke", "#333").attr("stroke-width", 1.2);
label(panelH, 1384.5, 1141.5, "Hazard Ratio(95%CI)", 15);

// ---------- I ----------
const panelI = panel(750, 1260, 0.995);
const yNom = d3.scalePoint().domain(nomNames).range([1398.8, 1958]);
nomNames.forEach(function(n) { label(panelI, 763, yNom(n), n, 23.6, "start"); });
const nomFont = 19.2;
const xPoints = d3.scaleLinear().domain([0, 100]).range([1020, 1755.9]);
const xNss = d3.scaleLinear().domain([-3, 0]).range([1020, 1755.9]);
const xTotal = d3.scaleLinear().domain([0, 160]).range([1020, 1755.9]);
const xLp = d3.scaleLinear().domain([-2, 3]).range([987, 1731]);
const minusFmt = d => String(d).replace("-", "−");

function darkAxis(g) {
    g.selectAll("line").attr("stroke", "#222").attr("stroke-width", 1.3);
    g.selectAll("path").attr("stroke", "#222").attr("stroke-width", 1.3);
}

// minor ticks get the short length and no text
function nomAxis(axis, rowName, isMajor) {
    const g = panelI.append("g")
        .attr("transform", "translate(0," + yNom(rowName) + ")")
        .call(axis)
        .call(styleAxis, nomFont)
        .call(darkAxis);
    g.selectAll(".tick").each(function(d) {
        if (!isMajor(d)) {
            const t = d3.select(this);
            t.select("text").remove();
            const line = t.select("line");
            line.attr("y2", +line.attr("y2") * 0.57);
        }
    });
}
nomAxis(d3.axisTop(xPoints).tickValues(d3.range(0, 101, 2)).tickSize(7).tickPadding(10.8).tickSizeOuter(0), "Points", d => d % 10 === 0);
nomAxis(d3.axisBottom(xNss).tickValues(nssTicks).tickSize(7).tickPadding(11.6).tickSizeOuter(0)
    .tickFormat(d => nssLabelled.includes(d) ? minusFmt(d) : ""), "NSS", d => true);
nomAxis(d3.axisBottom(xTotal).tickValues(d3.range(0, 161, 4)).tickSize(7).tickPadding(11.6).tickSizeOuter(0), "Total Points", d => d % 20 === 0);
nomAxis(d3.axisBottom(xLp).tickValues(d3.range(-2, 3.01, 0.25)).tickSize(7).tickPadding(11.6).tickSizeOuter(0).tickFormat(minusFmt), "Linear Predictor", d => d % 0.5 === 0);

// categorical predictors
nomFactorRows.forEach(function(r, i) {
    const y = yNom(r);
    const x0 = xPoints(0);
    const x1 = xPoints(nomFactorPoints[i]);
    panelI.append("path")
        .attr("d", "M" + x0 + "," + (y + 7) + "V" + y + "H" + x1 + "V" + (y - 7))
        .attr("fill", "none").attr("stroke", "#222").attr("stroke-width", 1.3);
    label(panelI, x0, y + 25, nomFactorLow[i], nomFont);
    label(panelI, x1, y - 24.4, nomFactorHigh[i], nomFont);
});

// probability scales sit on the linear predictor scale
function probAxis(rowName, labels, lp) {
    const axis = d3.axisBottom(xLp)
        .tickValues(lp)
        .tickSize(7)
        .tickPadding(11.6)
        .tickSizeOuter(0)
        .tickFormat((d, i) => d3.format(".1f")(labels[i]));
    const g = panelI.append("g")
        .attr("transform", "translate(0," + yNom(rowName) + ")")
        .call(axis)
        .call(styleAxis, nomFont)
        .call(darkAxis);
    g.select(".domain").remove();
    g.append("line")
        .attr("x1", xLp(lp[0])).attr("x2", xLp(lp[lp.length - 1]))
        .attr("stroke", "#222").attr("stroke-width", 1.3);
}
probAxis(nomNames[8], prob1Labels, prob1Lp);
probAxis(nomNames[9], prob3Labels, prob3Lp);
probAxis(nomNames[10], prob5Labels, prob5Lp);
</script>
</body>
</html>
